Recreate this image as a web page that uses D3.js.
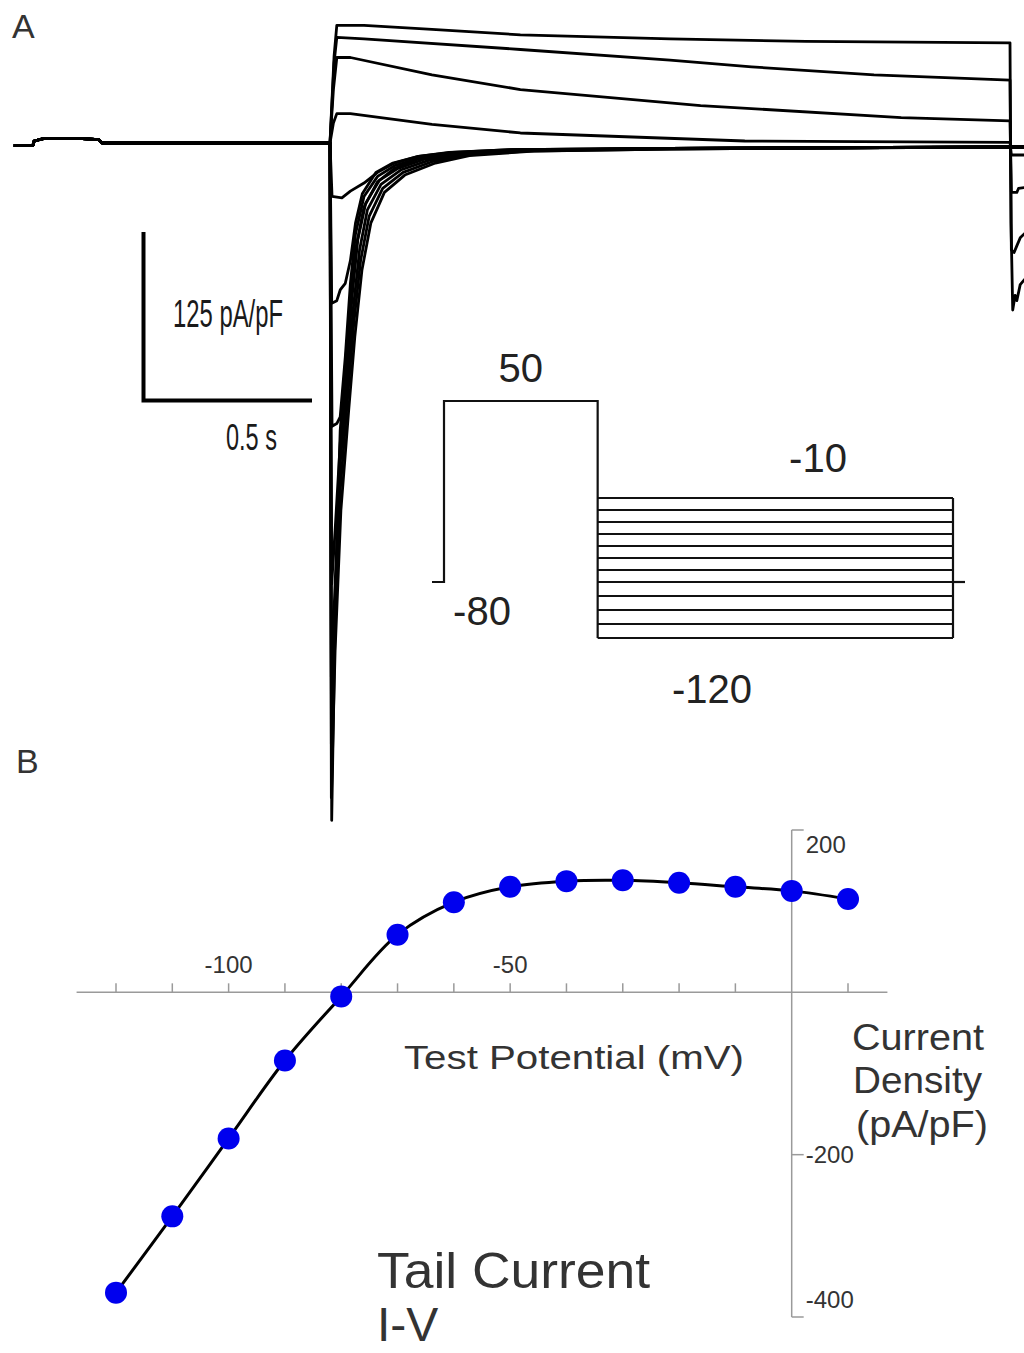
<!DOCTYPE html>
<html>
<head>
<meta charset="utf-8">
<script src="https://cdn.jsdelivr.net/npm/d3@7"></script>
<style>
  body { margin: 0; background: #fff; }
  svg { display: block; }
  text { font-family: "Liberation Sans", Arial, sans-serif; }
</style>
</head>
<body>
<svg id="fig" width="1024" height="1353"></svg>
<script>
// ---------- panel A : current traces, t in s (0 = start of test step), I in pA/pF
var preStep = [[-0.93, -2], [-0.874, -2], [-0.87, 1.5], [-0.84, 3.5], [-0.74, 3.5], [-0.68, 2.5], [-0.67, 0], [-0.005, 0]];

// one array per test potential, -10 mV (top) to -120 mV (deepest)
var stepTraces = [
  [[0, 0], [0.012, 65], [0.02, 88], [0.1, 88], [0.3, 85], [0.56, 81], [1.0, 78], [1.4, 76], [2.0, 75]],
  [[0, 0], [0.012, 60], [0.02, 79], [0.1, 78], [0.56, 70], [1.0, 62], [1.24, 57], [1.6, 51], [2.0, 47]],
  [[0, 0], [0.01, 40], [0.02, 64], [0.06, 64], [0.3, 51], [0.56, 40], [1.09, 28], [1.68, 19], [2.0, 16.5]],
  [[0, 0], [0.01, 15], [0.02, 22], [0.06, 22], [0.3, 14], [0.56, 7.5], [1.22, 1.5], [2.0, 0.5]],
  [[0, 0], [0.006, -40], [0.035, -41], [0.06, -36], [0.1, -30], [0.14, -22], [0.19, -15], [0.26, -10], [0.35, -7], [0.53, -5], [1.0, -4], [2.0, -3]],
  [[0, 0], [0.005, -120], [0.02, -118], [0.03, -110], [0.045, -105], [0.06, -88], [0.075, -60], [0.095, -38], [0.135, -22], [0.185, -15], [0.26, -10], [0.36, -7], [0.53, -5], [1.0, -4], [2.0, -3]],
  [[0, 0], [0.006, -212], [0.02, -210], [0.03, -205], [0.045, -160], [0.06, -105], [0.075, -68], [0.1, -40], [0.14, -25], [0.19, -17], [0.27, -11], [0.37, -7.5], [0.55, -5], [1.0, -4], [2.0, -3]],
  [[0, 0], [0.005, -330], [0.015, -290], [0.03, -225], [0.048, -170], [0.065, -115], [0.082, -72], [0.105, -45], [0.145, -28], [0.2, -19], [0.28, -12], [0.38, -8], [0.56, -5.5], [1.0, -4], [2.0, -3]],
  [[0, 0], [0.004, -400], [0.015, -330], [0.03, -240], [0.05, -180], [0.068, -125], [0.087, -80], [0.11, -50], [0.15, -31], [0.21, -20], [0.29, -13], [0.39, -8.5], [0.57, -5.5], [1.0, -4], [2.0, -3]],
  [[0, 0], [0.004, -450], [0.015, -360], [0.03, -260], [0.052, -190], [0.07, -135], [0.09, -88], [0.115, -55], [0.155, -34], [0.215, -22], [0.3, -14], [0.4, -9], [0.58, -6], [1.0, -4.5], [2.0, -3]],
  [[0, 0], [0.004, -490], [0.015, -380], [0.032, -275], [0.055, -200], [0.073, -145], [0.094, -95], [0.12, -60], [0.16, -37], [0.22, -24], [0.31, -15], [0.41, -9.5], [0.6, -6], [1.0, -4.5], [2.0, -3]],
  [[0, 0], [0.005, -507], [0.012, -400], [0.02, -300], [0.03, -215], [0.044, -170], [0.06, -118], [0.075, -80], [0.1, -48], [0.14, -29], [0.19, -19], [0.26, -12], [0.36, -8], [0.53, -5.5], [1.0, -4], [2.0, -3]]
];

// return to holding potential (only the start of the tails is visible)
var tailTraces = [
  [[2.003, -60], [2.008, -125], [2.015, -114], [2.02, -118], [2.03, -106], [2.05, -100]],
  [[2.004, -80], [2.012, -82], [2.02, -77], [2.03, -71], [2.05, -66]],
  [[2.004, -37], [2.02, -37], [2.025, -34], [2.05, -33]],
  [[2.004, -9], [2.05, -9]],
  [[2.004, -3], [2.05, -3]], [[2.004, -3], [2.05, -3]], [[2.004, -3], [2.05, -3]], [[2.004, -3], [2.05, -3]],
  [[2.004, -3], [2.05, -3]], [[2.004, -3], [2.05, -3]], [[2.004, -3], [2.05, -3]], [[2.004, -3], [2.05, -3]]
];

var scaleBarI = 125;   // pA/pF
var scaleBarT = 0.5;   // s

// voltage protocol inset (mV), schematic times (s)
var holdMv = -80;
var prepulseMv = 50;
var testLevels = [-10, -20, -30, -40, -50, -60, -70, -80, -90, -100, -110, -120];
var protoTimes = [0, 0.1, 1.38, 4.34, 4.44];

// ---------- panel B : tail current I-V
var ivMv = [-120, -110, -100, -90, -80, -70, -60, -50, -40, -30, -20, -10, 0, 10];
var ivDensity = [-370, -276, -180, -84, -5, 71, 111, 130, 137, 138, 135, 130, 125, 115];
var xTickVals = [-120, -110, -100, -90, -80, -70, -60, -50, -40, -30, -20, -10, 10];
var xTickLabels = [-100, -50];
var yTickVals = [200, -200, -400];

var svg = d3.select('#fig');

// ================= panel A =================
var xA = d3.scaleLinear().domain([0, 2]).range([330, 1010]);
var yA = d3.scaleLinear().domain([0, 125]).range([143, -24]);

svg.append('text').text('A')
  .attr('x', 12).attr('y', 38)
  .style('font-size', '34px').style('fill', '#333');

var traceLine = d3.line()
  .x(function(d) { return xA(d[0]); })
  .y(function(d) { return yA(d[1]); });

var gTr = svg.append('g').attr('class', 'traces');
stepTraces.forEach(function(tr, i) {
  var pts = preStep.concat(tr, tailTraces[i]);
  gTr.append('path')
    .attr('d', traceLine(pts))
    .attr('fill', 'none')
    .attr('stroke', '#000')
    .attr('stroke-width', 2.8)
    .attr('stroke-linejoin', 'round');
});

// scale bars
var sbX = 142, sbY = 399;
var sb = svg.append('g').attr('class', 'scalebar');
sb.append('path')
  .attr('d', 'M' + (sbX + 1.5) + ',' + (sbY - (yA(0) - yA(scaleBarI))) +
             'V' + (sbY + 1.5) + 'H' + (sbX + (xA(scaleBarT) - xA(0))))
  .attr('fill', 'none').attr('stroke', '#000').attr('stroke-width', 4);

sb.append('text').text(scaleBarI + ' pA/pF')
  .attr('x', 173).attr('y', 327)
  .attr('textLength', 110).attr('lengthAdjust', 'spacingAndGlyphs')
  .style('font-family', '"Liberation Sans Narrow", "Liberation Sans", Arial, sans-serif')
  .style('font-size', '38px').style('fill', '#1a1a1a');

sb.append('text').text(scaleBarT + ' s')
  .attr('x', 226).attr('y', 450)
  .attr('textLength', 51).attr('lengthAdjust', 'spacingAndGlyphs')
  .style('font-family', '"Liberation Sans Narrow", "Liberation Sans", Arial, sans-serif')
  .style('font-size', '36px').style('fill', '#1a1a1a');

// protocol inset
var xP = d3.scaleLinear().domain([0, 4.44]).range([432, 965]);
var yP = d3.scaleLinear().domain([-120, -80, -10, 50]).range([638, 582, 498, 401]);
var gP = svg.append('g').attr('class', 'protocol')
  .attr('fill', 'none').attr('stroke', '#111').attr('stroke-width', 2.2);

gP.append('path').attr('d',
  'M' + xP(protoTimes[0]) + ',' + yP(holdMv) +
  'H' + xP(protoTimes[1]) + 'V' + yP(prepulseMv) +
  'H' + xP(protoTimes[2]) + 'V' + yP(d3.min(testLevels)));
testLevels.forEach(function(v) {
  gP.append('line')
    .attr('x1', xP(protoTimes[2])).attr('x2', xP(protoTimes[3]))
    .attr('y1', yP(v)).attr('y2', yP(v));
});
gP.append('line')
  .attr('x1', xP(protoTimes[3])).attr('x2', xP(protoTimes[3]))
  .attr('y1', yP(d3.max(testLevels))).attr('y2', yP(d3.min(testLevels)));
gP.append('line')
  .attr('x1', xP(protoTimes[3])).attr('x2', xP(protoTimes[4]))
  .attr('y1', yP(holdMv)).attr('y2', yP(holdMv));

var pLab = svg.append('g').style('font-size', '40px').style('fill', '#222').attr('text-anchor', 'middle');
pLab.append('text').text(prepulseMv)
  .attr('x', (xP(protoTimes[1]) + xP(protoTimes[2])) / 2).attr('y', yP(prepulseMv) - 19);
pLab.append('text').text(d3.max(testLevels))
  .attr('x', 818).attr('y', yP(d3.max(testLevels)) - 26);
pLab.append('text').text(d3.min(testLevels))
  .attr('x', 712).attr('y', yP(d3.min(testLevels)) + 65);
pLab.append('text').text(holdMv)
  .attr('x', 482).attr('y', yP(holdMv) + 43);

// ================= panel B =================
svg.append('text').text('B')
  .attr('x', 16).attr('y', 773)
  .style('font-size', '34px').style('fill', '#333');

var xB = d3.scaleLinear().domain([-120, 10]).range([116, 848]);
var yB = d3.scaleLinear().domain([200, -400]).range([830, 1317]);

var gAx = svg.append('g').attr('class', 'axes')
  .attr('stroke', '#9a9a9a').attr('stroke-width', 1.5);
gAx.append('line')
  .attr('x1', xB(-127)).attr('x2', xB(17))
  .attr('y1', yB(0)).attr('y2', yB(0));
gAx.append('line')
  .attr('x1', xB(0)).attr('x2', xB(0))
  .attr('y1', yB(200)).attr('y2', yB(-400));
xTickVals.forEach(function(v) {
  gAx.append('line')
    .attr('x1', xB(v)).attr('x2', xB(v))
    .attr('y1', yB(0)).attr('y2', yB(0) - 9);
});
yTickVals.forEach(function(v) {
  gAx.append('line')
    .attr('x1', xB(0)).attr('x2', xB(0) + 12)
    .attr('y1', yB(v)).attr('y2', yB(v));
});

var tickTxt = svg.append('g').style('font-size', '24px').style('fill', '#333');
xTickLabels.forEach(function(v) {
  tickTxt.append('text').text(v)
    .attr('x', xB(v)).attr('y', yB(0) - 19)
    .attr('text-anchor', 'middle');
});
var yLabDy = { '200': 23, '-200': 8, '-400': -9 };
yTickVals.forEach(function(v) {
  tickTxt.append('text').text(v)
    .attr('x', xB(0) + 14).attr('y', yB(v) + yLabDy[v]);
});

svg.append('text').text('Test Potential (mV)')
  .attr('x', 404).attr('y', 1069)
  .attr('textLength', 340).attr('lengthAdjust', 'spacingAndGlyphs')
  .style('font-size', '33px').style('fill', '#333');

var yTitle = ['Current', 'Density', '(pA/pF)'];
var yTitleX = [852, 853, 856];
var yTitleY = [1050, 1093, 1137];
var yTitleW = [132, 129, 132];
yTitle.forEach(function(s, i) {
  svg.append('text').text(s)
    .attr('x', yTitleX[i]).attr('y', yTitleY[i])
    .attr('textLength', yTitleW[i]).attr('lengthAdjust', 'spacingAndGlyphs')
    .style('font-size', '36px').style('fill', '#333');
});

svg.append('text').text('Tail Current')
  .attr('x', 377).attr('y', 1288)
  .attr('textLength', 273).attr('lengthAdjust', 'spacingAndGlyphs')
  .style('font-size', '50px').style('fill', '#333');
svg.append('text').text('I-V')
  .attr('x', 377).attr('y', 1341)
  .style('font-size', '48px').style('fill', '#333');

var ivData = ivMv.map(function(v, i) { return [v, ivDensity[i]]; });
var ivLine = d3.line()
  .x(function(d) { return xB(d[0]); })
  .y(function(d) { return yB(d[1]); })
  .curve(d3.curveCatmullRom.alpha(0.5));

svg.append('path')
  .attr('d', ivLine(ivData))
  .attr('fill', 'none').attr('stroke', '#000').attr('stroke-width', 3);

svg.append('g').selectAll('circle')
  .data(ivData).enter().append('circle')
  .attr('cx', function(d) { return xB(d[0]); })
  .attr('cy', function(d) { return yB(d[1]); })
  .attr('r', 11)
  .attr('fill', '#0000ee');
</script>
</body>
</html>
